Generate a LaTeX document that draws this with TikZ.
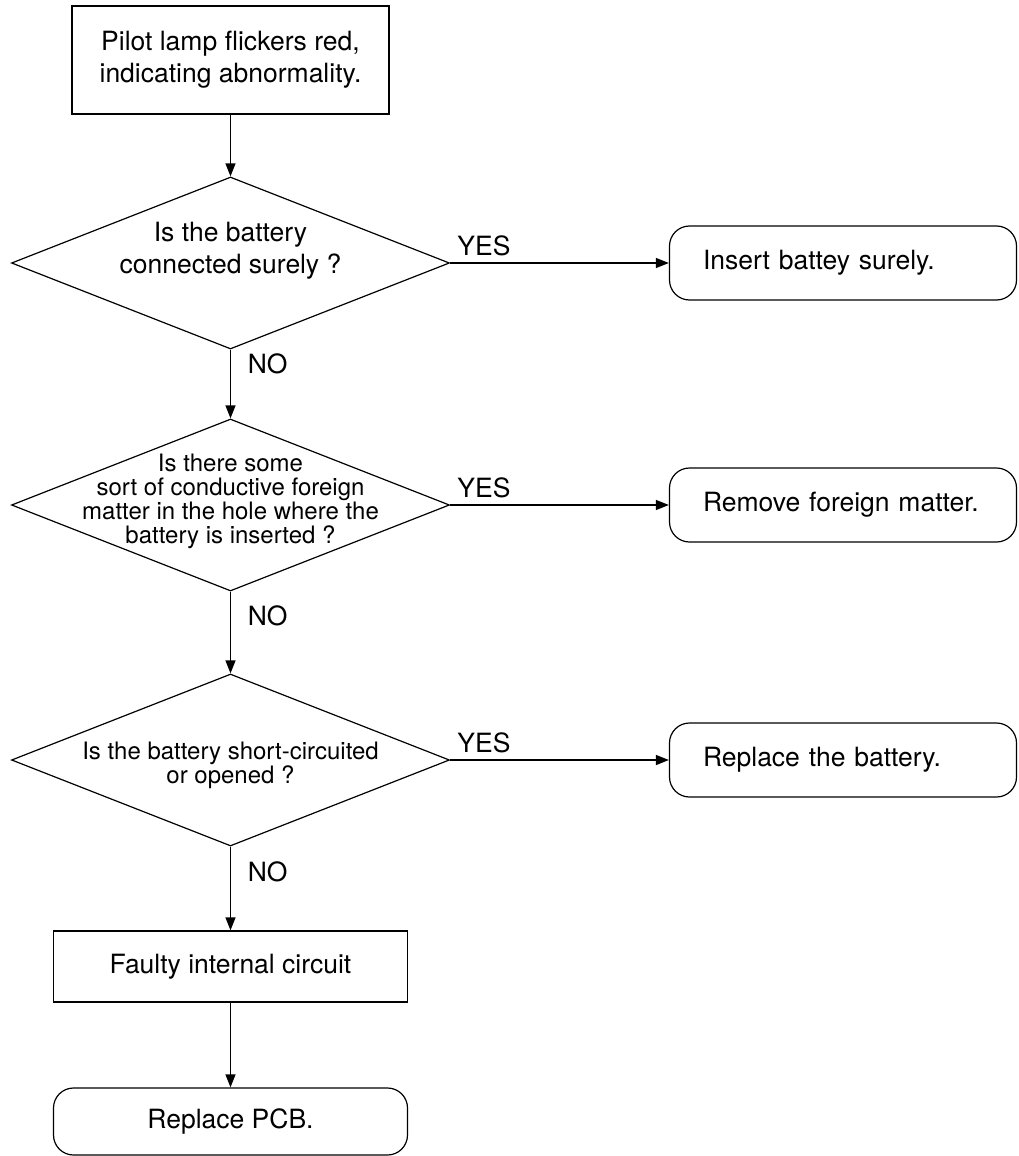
\documentclass[tikz,border=0pt]{standalone}
\usepackage{fontspec}
\setmainfont{TeX Gyre Heros}
\usetikzlibrary{positioning, arrows.meta, shapes.geometric}

\begin{document}
\begin{tikzpicture}
    [
        node distance=121pt and 306.25pt, on grid, label distance=0pt,
        font=\fontsize{13.25}{16}\selectfont,
        box_node/.style={rectangle, draw=black, line width=0.6pt, align=center, inner sep=0pt},
        question_node/.style={diamond, draw=black, line width=0.6pt, minimum width=219pt, minimum height=86pt, inner sep=0pt},
        result_node/.style={rectangle, rounded corners=10pt, draw=black, line width=0.6pt, minimum width=173.5pt, minimum height=37pt, text width=140pt, inner xsep=16.75pt, align=left},
        small_text/.style={font=\fontsize{12}{12}\selectfont, align=center},
        flow_line/.style={-{Triangle[length=6.5pt, width=5pt]}, line width=0.65pt},
    ]
        \useasboundingbox (0,0) rectangle (509pt,-578pt);
        \node[box_node, minimum width=158.5pt, minimum height=54pt] (lamp) at (115.25pt,-30pt) {Pilot lamp flickers red,\\indicating abnormality.} ;
        \node[question_node, label={[yshift=6pt, align=center]center:{Is the battery\\connected surely ?}}] (q1) [below=101.5pt of lamp] {} ;
        \node[question_node, label={[small_text, yshift=2pt]center:{Is there some\\sort of conductive foreign\\matter in the hole where the\\battery is inserted ?}}] (q2) [below=of q1] {} ;
        \node[question_node, label={[small_text, yshift=-2.5pt]center:{Is the battery short-circuited\\or opened ?}}] (q3) [below=127.5pt of q2] {} ;
        \node[box_node, minimum width=177pt, minimum height=35.5pt] (faulty) [below=103.25pt of q3] {Faulty internal circuit} ;
        \node[box_node, rounded corners=10pt, minimum width=177pt, minimum height=33.5pt] (pcb) [below=77.5pt of faulty] {Replace PCB.} ;
        \node[result_node] (insert) [right=of q1] {Insert battey surely.} ;
        \node[result_node] (remove) [right=of q2] {Remove foreign matter.} ;
        \node[result_node] (replace) [right=of q3] {Replace the battery.} ;
        \draw[flow_line] (lamp) -- (q1) ;
        \draw[flow_line] (q1) -- node[pos=0, above right] {YES} (insert) ;
        \draw[flow_line] (q1) -- node[pos=0.2, right, xshift=5pt] {NO} (q2) ;
        \draw[flow_line] (q2) -- node[pos=0, above right] {YES} (remove) ;
        \draw[flow_line] (q2) -- node[pos=0.3, right, xshift=5pt] {NO} (q3) ;
        \draw[flow_line] (q3) -- node[pos=0, above right] {YES} (replace) ;
        \draw[flow_line] (q3) -- node[pos=0.3, right, xshift=5pt] {NO} (faulty) ;
        \draw[flow_line] (faulty) -- (pcb) ;
    \end{tikzpicture}
\end{document}
